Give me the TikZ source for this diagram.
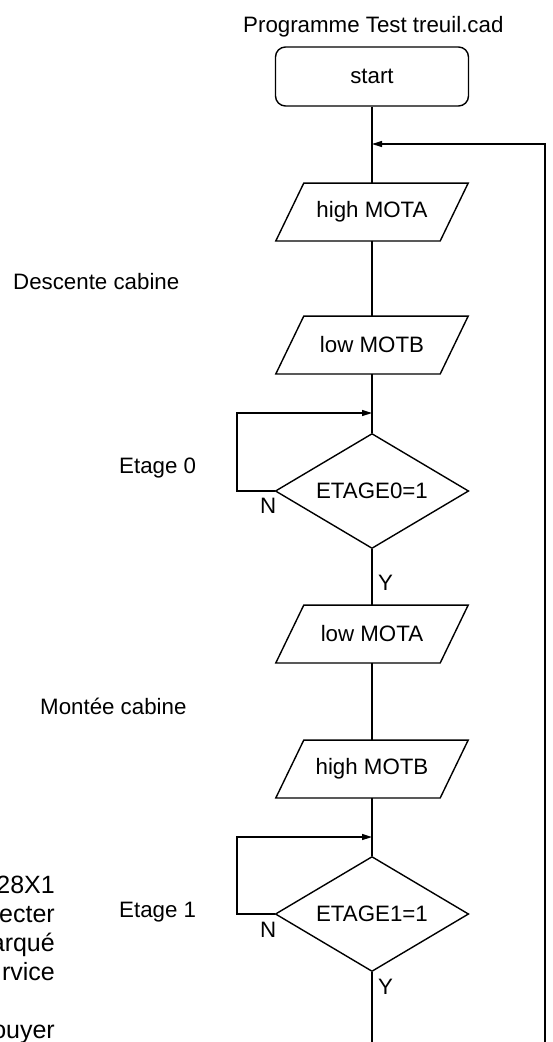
\documentclass[tikz,border=0pt]{standalone}
\usepackage{fontspec}
\setmainfont{Liberation Sans}
\usetikzlibrary{shapes.geometric,arrows.meta,calc}
\begin{document}
\begin{tikzpicture}[x=1pt,y=-1pt,
  every node/.style={font=\fontsize{22.3}{29}\selectfont, inner sep=0pt},
  line/.style={line width=1.4pt, draw=black},
  arr/.style={line, -{Triangle[length=10pt,width=6pt]}},
  startbox/.style={draw, line width=1.4pt, rounded corners=10pt, minimum width=193pt, minimum height=59pt},
  iobox/.style={minimum width=164pt, minimum height=57.5pt},
  decision/.style={draw, line width=1.4pt, diamond, aspect=1.68, minimum width=193.4pt, minimum height=115pt},
  txt/.style={anchor=base west},
  frag/.style={anchor=base east, font=\fontsize{25}{29}\selectfont},
]
\useasboundingbox (0,0) rectangle (552,1042);

% texts
\node[txt] (title) at (243,32) {Programme Test treuil.cad};
\node[txt] (desc) at (13,289) {Descente cabine};
\node[txt] (et0) at (119,473) {Etage 0};
\node[txt] (mont) at (40,714) {Montée cabine};
\node[txt] (et1) at (119,917) {Etage 1};

\node[frag] (f1) at (55,893) {28X1};
\node[frag] (f2) at (55,922) {ecter};
\node[frag] (f3) at (55,951) {arqué};
\node[frag] (f4) at (55,980) {rvice};
\node[frag] (f5) at (55,1038) {ouyer};

% flow nodes
\node[startbox] (start) at (372,76.5) {start};
\node[iobox] (mota) at (372,212) {high MOTA};
\node[iobox] (motb) at (372,345) {low MOTB};
\node[decision] (d0) at (372,491) {ETAGE0=1};
\node[iobox] (lmota) at (372,634) {low MOTA};
\node[iobox] (hmotb) at (372,769) {high MOTB};
\node[decision] (d1) at (372,914) {ETAGE1=1};

\foreach \n in {mota,motb,lmota,hmotb}
  \draw[line] ($(\n.north west)+(14,0)$) -- ($(\n.north east)+(14,0)$)
    -- ($(\n.south east)+(-14,0)$) -- ($(\n.south west)+(-14,0)$) -- cycle;

\node[txt] (n0) at (260,513) {N};
\node[txt] (y0) at (378,590) {Y};
\node[txt] (n1) at (260,937) {N};
\node[txt] (y1) at (378,994) {Y};

% coordinates
\coordinate (j) at (372,144);
\coordinate (rtop) at (545,144);
\coordinate (rbot) at (545,1042);
\coordinate (mbot) at (372,1042);
\coordinate (l0a) at (237,491);
\coordinate (l0b) at (237,413);
\coordinate (l0c) at (372,413);
\coordinate (l1a) at (237,914);
\coordinate (l1b) at (237,837);
\coordinate (l1c) at (372,837);

% connectors
\draw[line] (start) -- (mota);
\draw[line] (mota) -- (motb);
\draw[line] (motb) -- (d0);
\draw[line] (d0) -- (lmota);
\draw[line] (lmota) -- (hmotb);
\draw[line] (hmotb) -- (d1);
\draw[line] (d1) -- (mbot);
\draw[arr] (rbot) -- (rtop) -- (j);
\draw[arr] (d0.west) -- (l0a) -- (l0b) -- (l0c);
\draw[arr] (d1.west) -- (l1a) -- (l1b) -- (l1c);
\end{tikzpicture}
\end{document}
